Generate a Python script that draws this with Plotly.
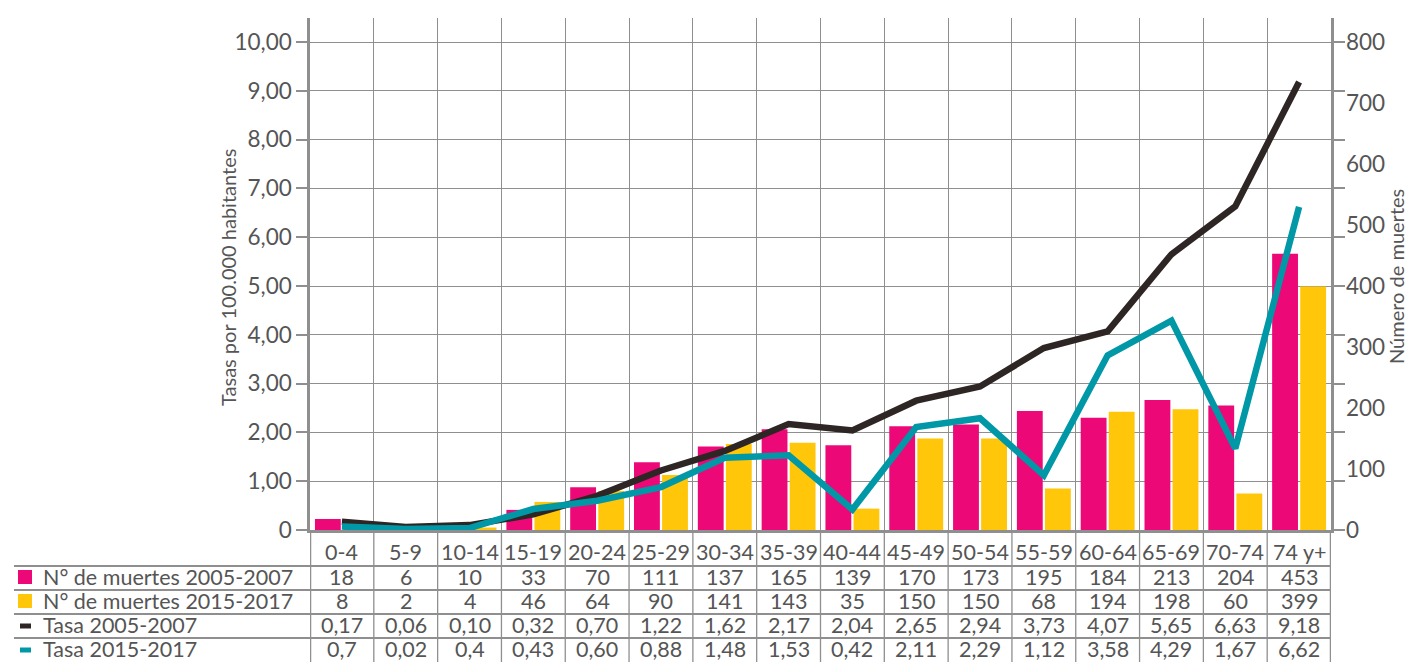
import plotly.graph_objects as go

# datos
grupos = ["0-4", "5-9", "10-14", "15-19", "20-24", "25-29", "30-34", "35-39",
          "40-44", "45-49", "50-54", "55-59", "60-64", "65-69", "70-74", "74 y+"]
muertes_0507 = [18, 6, 10, 33, 70, 111, 137, 165, 139, 170, 173, 195, 184, 213, 204, 453]
muertes_1517 = [8, 2, 4, 46, 64, 90, 141, 143, 35, 150, 150, 68, 194, 198, 60, 399]
tasa_0507 = [0.17, 0.06, 0.10, 0.32, 0.70, 1.22, 1.62, 2.17, 2.04, 2.65, 2.94, 3.73,
             4.07, 5.65, 6.63, 9.18]
tasa_1517 = [0.07, 0.02, 0.04, 0.43, 0.60, 0.88, 1.48, 1.53, 0.42, 2.11, 2.29, 1.12,
             3.58, 4.29, 1.67, 6.62]
# como aparece escrito en la tabla
tasa_1517_tabla = ["0,7", "0,02", "0,4", "0,43", "0,60", "0,88", "1,48", "1,53", "0,42",
                   "2,11", "2,29", "1,12", "3,58", "4,29", "1,67", "6,62"]
tasa_ticks = list(range(0, 11))
tasa_ticktext = ["0"] + [f"{v},00" for v in tasa_ticks[1:]]
muertes_ticks = list(range(0, 801, 100))

MAGENTA = "#EC0877"
AMARILLO = "#FFC60A"
NEGRO = "#2D2624"
TURQUESA = "#0098A6"
GRIS = "#8F8F8F"
TEXTO = "#555555"
FUENTE = "Lato, sans-serif"

# geometria: la pagina tiene 8px de margen, todo se mide en pixeles de pagina
OFF = 8
W, H = 1413 - OFF, 662 - OFF
L, R, T, B = 310 - OFF, 82, 18 - OFF, 132
PW, PH = W - L - R, H - T - B
Y0 = 530  # pixel de pagina del eje x


def py(px):  # pixel vertical de pagina -> paper
    return (Y0 - px) / PH


def pxp(px):  # pixel horizontal de pagina -> paper
    return (px - 310) / PW


fig = go.Figure()
fig.add_trace(go.Bar(x=grupos, y=muertes_0507, name="N° de muertes 2005-2007",
                     marker_color=MAGENTA, marker_line_width=0, yaxis="y"))
fig.add_trace(go.Bar(x=grupos, y=muertes_1517, name="N° de muertes 2015-2017",
                     marker_color=AMARILLO, marker_line_width=0, yaxis="y"))
fig.add_trace(go.Scatter(x=grupos, y=tasa_0507, name="Tasa 2005-2007", mode="lines",
                         line=dict(color=NEGRO, width=6.5), yaxis="y2"))
fig.add_trace(go.Scatter(x=grupos, y=tasa_1517, name="Tasa 2015-2017", mode="lines",
                         line=dict(color=TURQUESA, width=6.5), yaxis="y2"))

ymax_tasa = 10 * PH / 488
fig.update_layout(
    width=W, height=H,
    margin=dict(l=L, r=R, t=T, b=B),
    paper_bgcolor="white", plot_bgcolor="white",
    showlegend=False,
    barmode="group", bargap=0.12, bargroupgap=0.08,
    font=dict(family=FUENTE, color=TEXTO, size=21),
    xaxis=dict(type="category", range=[-0.5, 15.5], tickson="boundaries",
               showgrid=True, gridcolor=GRIS, gridwidth=1.3,
               showticklabels=False, ticks="",
               showline=True, linecolor=GRIS, linewidth=2.5),
    yaxis=dict(side="right", range=[0, 800 * ymax_tasa / 10], tickvals=muertes_ticks,
               showgrid=False, ticks="", showline=False, zeroline=False,
               tickfont=dict(size=22.5, color=TEXTO), ticklabelstandoff=14),
    yaxis2=dict(overlaying="y", side="left", range=[0, ymax_tasa],
                tickvals=tasa_ticks, ticktext=tasa_ticktext,
                showgrid=True, gridcolor=GRIS, gridwidth=1.3, zeroline=False,
                ticks="outside", ticklen=11, tickcolor=GRIS, tickwidth=1.5,
                showline=True, mirror="ticks", linecolor=GRIS, linewidth=2.5,
                tickfont=dict(size=22.5, color=TEXTO)),
)

shapes = []
anns = []
# lineas verticales de la tabla
for i in range(len(grupos) + 1):
    shapes.append(dict(type="line", xref="x", yref="paper", x0=i - 0.5, x1=i - 0.5,
                       y0=0, y1=py(666),
                       line=dict(color=GRIS, width=2.5 if i in (0, len(grupos)) else 1.3)))
# lineas horizontales de la tabla
for yy in [566, 590, 614, 638]:
    shapes.append(dict(type="line", xref="paper", yref="paper", x0=pxp(14), x1=1,
                       y0=py(yy), y1=py(yy), line=dict(color=GRIS, width=2)))

# encabezados y valores
filas_y = [577, 601, 625, 649]
filas = [
    [str(v) for v in muertes_0507],
    [str(v) for v in muertes_1517],
    [f"{v:.2f}".replace(".", ",") for v in tasa_0507],
    tasa_1517_tabla,
]
for j, g in enumerate(grupos):
    anns.append(dict(x=g, xref="x", y=py(552), yref="paper", text=g, showarrow=False,
                     yanchor="middle", font=dict(size=21.5, color=TEXTO)))
    for fila, yy in zip(filas, filas_y):
        anns.append(dict(x=g, xref="x", y=py(yy), yref="paper", text=fila[j],
                         showarrow=False, yanchor="middle", font=dict(size=21.5, color=TEXTO)))

# etiquetas de filas con su simbolo
for k, yy in enumerate(filas_y):
    anns.append(dict(x=pxp(41), xref="paper", y=py(yy), yref="paper", text=fig.data[k].name,
                     showarrow=False, xanchor="left", yanchor="middle",
                     font=dict(size=21.5, color=TEXTO)))
    if k < 2:
        color = MAGENTA if k == 0 else AMARILLO
        shapes.append(dict(type="rect", xref="paper", yref="paper",
                           x0=pxp(18), x1=pxp(32), y0=py(yy + 7), y1=py(yy - 7),
                           fillcolor=color, line_width=0))
    else:
        color = NEGRO if k == 2 else TURQUESA
        shapes.append(dict(type="line", xref="paper", yref="paper",
                           x0=pxp(20), x1=pxp(31), y0=py(yy + 1), y1=py(yy + 1),
                           line=dict(color=color, width=5)))

# titulos de ejes
anns.append(dict(x=pxp(228), xref="paper", y=py(278), yref="paper",
                 text="Tasas por 100.000 habitantes", textangle=-90, showarrow=False,
                 xanchor="center", yanchor="middle", font=dict(size=20, color=TEXTO)))
anns.append(dict(x=pxp(1396), xref="paper", y=py(277), yref="paper",
                 text="Número de muertes", textangle=-90, showarrow=False,
                 xanchor="center", yanchor="middle", font=dict(size=20, color=TEXTO)))

fig.update_layout(shapes=shapes, annotations=anns)
fig.write_html("out.html")
